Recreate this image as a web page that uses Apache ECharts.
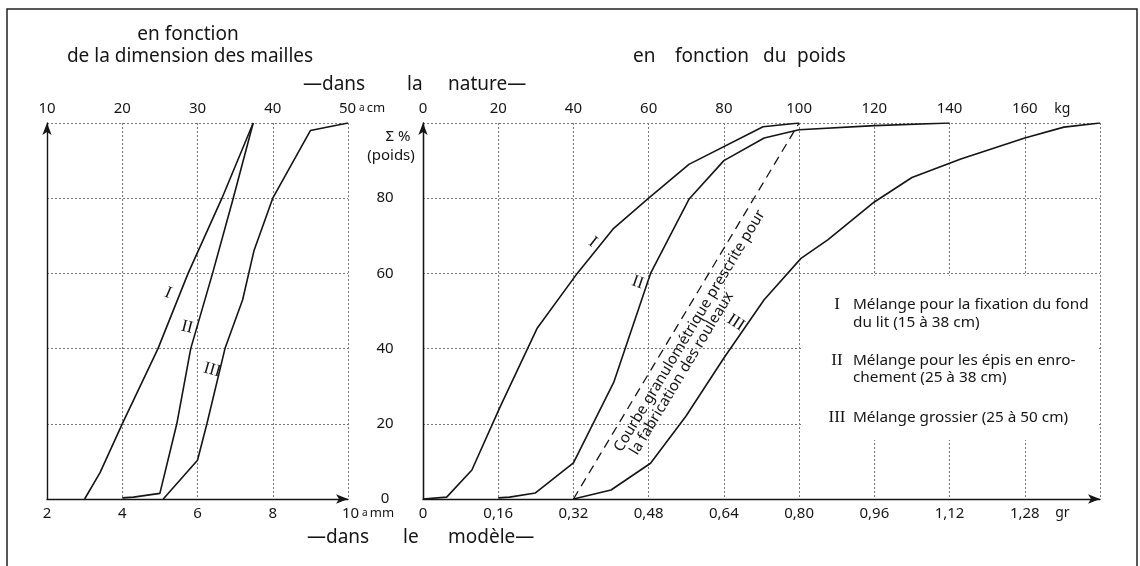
<!DOCTYPE html>
<html><head><meta charset="utf-8">
<script src="https://cdn.jsdelivr.net/npm/echarts@6/dist/echarts.min.js"></script>
<style>html,body{margin:0;padding:0;background:#fff}#c{width:1140px;height:566px}</style>
</head><body><div id="c"></div><script>
// ---- data: left panel (x in mm of the model, y in cumulative % by weight)
const leftCurveI   = [[3.0,0],[3.41,7],[4.0,20],[4.95,40],[5.75,60],[6.65,80],[7.48,100]];
const leftCurveII  = [[4.0,0.3],[4.3,0.5],[5.0,1.5],[5.45,20],[5.82,40],[6.4,60],[6.95,80],[7.48,100]];
const leftCurveIII = [[5.09,0],[6.0,10.3],[6.25,20],[6.73,40],[7.2,53],[7.5,66],[8.0,80],[9.0,98],[10,100]];
// ---- data: right panel (x in kg in nature, y in cumulative %)
const rightCurveI   = [[0,0],[6.3,0.5],[13,7.7],[20.5,24.5],[30.4,45.5],[41,60],[50.7,72],[60,80],[70.7,89],[90.4,99],[100,100]];
const rightCurveII  = [[20,0.3],[23,0.5],[29.9,1.6],[40,9.6],[50.7,31],[60.5,60],[70.7,79.7],[80,90],[90.7,96],[100,98.2],[120,99.3],[140,100]];
const rightCurveIII = [[40,0],[50,2.4],[60.5,9.5],[69.9,22],[80,37.5],[90.7,53],[100.5,64],[107.7,69],[120,79],[130,85.5],[143,90.4],[160,96],[170.4,98.9],[180,100]];
const prescribedCurve = [[40,0],[100,100]];
// ---- axis ranges / tick steps
const modelMm   = {min:2, max:10, step:2};
const natureCm  = {min:10, max:50, step:10};
const modelGr   = {min:0, max:1.44, step:0.16};
const natureKg  = {min:0, max:180, step:20};
const percent   = {min:0, max:100, step:20};
// ---- curve label anchors (data coordinates) and tilt
const leftLabels  = [['I',5.22,54.8,-23],['II',5.72,45.7,-14],['III',6.39,34.3,-16]];
const rightLabels = [['I',45.1,68.3,-38],['II',57.1,57.6,-19],['III',83.2,46.9,-33]];
const legendItems = [['I','Mélange pour la fixation du fond','du lit (15 à 38 cm)'],
                     ['II','Mélange pour les épis en enro-','chement (25 à 38 cm)'],
                     ['III','Mélange grossier (25 à 50 cm)','']];

const FONT = '"Noto Sans", sans-serif';
const SERIF = '"Liberation Serif", "DejaVu Serif", serif';
const INK = '#151515';
const grid = {show:true, lineStyle:{color:'#777', type:[2,2], width:1}};
const baseLabel = {color:INK, fontFamily:FONT, fontSize:15, showMinLabel:true, showMaxLabel:true};
const arrowLine = {show:true, lineStyle:{color:INK, width:1.4}, symbol:['none','arrow'], symbolSize:[7,12]};

const chart = echarts.init(document.getElementById('c'), null, {renderer:'canvas'});
const lineSeries = (data, xi, yi, dashed) => ({
  type:'line', data, xAxisIndex:xi, yAxisIndex:yi, symbol:'none', silent:true, z:3,
  lineStyle:{color:INK, width:dashed?1.3:1.6, type: dashed?[9,6]:'solid'}
});

chart.setOption({
  animation:false,
  backgroundColor:'#fff',
  grid:[{left:47, right:792, top:123, bottom:67},{left:423, right:40, top:123, bottom:67}],
  xAxis:[
    {gridIndex:0, type:'value', position:'bottom', min:modelMm.min, max:modelMm.max, interval:modelMm.step,
     axisLine:arrowLine, axisTick:{show:false}, splitLine:grid,
     axisLabel:Object.assign({}, baseLabel, {margin:7,
       formatter:v => v===modelMm.max ? '{n|'+v+'}{u|a}{m|mm}' : String(v),
       rich:{n:{fontSize:15, fontFamily:FONT, color:INK, padding:[0,0,0,40]}, u:{fontSize:10, fontFamily:FONT, color:INK, padding:[0,2,0,3]}, m:{fontSize:13, fontFamily:FONT, color:INK}}})},
    {gridIndex:0, type:'value', position:'top', min:natureCm.min, max:natureCm.max, interval:natureCm.step,
     axisLine:{show:false}, axisTick:{show:false}, splitLine:{show:false},
     axisLabel:Object.assign({}, baseLabel, {margin:7,
       formatter:v => v===natureCm.max ? '{n|'+v+'}{u|a}{m|cm}' : String(v),
       rich:{n:{fontSize:15, fontFamily:FONT, color:INK, padding:[0,0,0,28]}, u:{fontSize:10, fontFamily:FONT, color:INK, padding:[0,2,0,3]}, m:{fontSize:13, fontFamily:FONT, color:INK}}})},
    {gridIndex:1, type:'value', position:'bottom', min:modelGr.min, max:modelGr.max, interval:modelGr.step,
     axisLine:arrowLine, axisTick:{show:false}, splitLine:grid,
     axisLabel:Object.assign({}, baseLabel, {margin:7,
       formatter:v => v===0 ? '0' : (v > modelGr.max-0.01 ? '' : v.toFixed(2).replace('.',','))})},
    {gridIndex:1, type:'value', position:'top', min:natureKg.min, max:natureKg.max, interval:natureKg.step,
     axisLine:{show:false}, axisTick:{show:false}, splitLine:{show:false},
     axisLabel:Object.assign({}, baseLabel, {margin:7, formatter:v => v===natureKg.max ? '' : String(v)})}
  ],
  yAxis:[
    {gridIndex:0, type:'value', min:percent.min, max:percent.max, interval:percent.step,
     axisLine:arrowLine, axisTick:{show:false}, splitLine:grid, axisLabel:{show:false}},
    {gridIndex:1, type:'value', position:'left', min:percent.min, max:percent.max, interval:percent.step,
     axisLine:arrowLine, axisTick:{show:false}, splitLine:grid,
     axisLabel:Object.assign({}, baseLabel, {margin:38, align:'center', formatter:v => v===percent.max ? '' : String(v)})},
    {gridIndex:1, type:'value', position:'right', min:percent.min, max:percent.max, interval:percent.step,
     axisLine:{show:true, lineStyle:{color:INK, width:1.2}}, axisTick:{show:false}, splitLine:{show:false}, axisLabel:{show:false}}
  ],
  series:[
    lineSeries(leftCurveI,0,0), lineSeries(leftCurveII,0,0), lineSeries(leftCurveIII,0,0),
    lineSeries(rightCurveI,3,1), lineSeries(rightCurveII,3,1), lineSeries(rightCurveIII,3,1),
    lineSeries(prescribedCurve,3,1,true)
  ]
});

const pxL = p => chart.convertToPixel({xAxisIndex:0, yAxisIndex:0}, p);
const pxR = p => chart.convertToPixel({xAxisIndex:3, yAxisIndex:1}, p);
const txt = (text, x, y, o) => {
  o = o || {};
  return {type:'text', x, y, rotation:(o.rot||0)*Math.PI/180, z:10, silent:true,
    style:{text, fill:INK, fontSize:o.size||15, fontFamily:o.font||FONT,
      align:o.align||'center', textAlign:o.align||'center', verticalAlign:'middle', textVerticalAlign:'middle'}};
};

const g = [];
// frame
g.push({type:'rect', shape:{x:7, y:9, width:1130, height:600}, z:0, silent:true,
  style:{fill:null, stroke:'#222', lineWidth:1.5}});
// legend box (covers grid lines)
const b0 = pxR([100.8, 59.4]), b1 = pxR([179.6, 15.7]);
g.push({type:'rect', shape:{x:b0[0], y:b0[1], width:b1[0]-b0[0], height:b1[1]-b0[1]}, z:1, silent:true,
  style:{fill:'#fff', stroke:null}});
// titles
g.push(txt('en fonction', 188, 35, {size:19}));
g.push(txt('de la dimension des mailles', 190, 57, {size:19}));
[['en',633],['fonction',675],['du',763],['poids',797]].forEach(w => g.push(txt(w[0], w[1], 57, {size:19, align:'left'})));
[['—dans',303],['la',407],['nature—',448]].forEach(w => g.push(txt(w[0], w[1], 85, {size:19, align:'left'})));
[['—dans',307],['le',403],['modèle—',448]].forEach(w => g.push(txt(w[0], w[1], 538, {size:19, align:'left'})));
// y axis title
g.push(txt('Σ %', 398, 137, {size:15}));
g.push(txt('(poids)', 391, 156, {size:15}));
// units
const kgP = pxR([170, 100]);
g.push(txt('kg', kgP[0], 109, {size:14}));
g.push(txt('gr', kgP[0], 513, {size:14}));
// curve labels
leftLabels.forEach(l => { const p = pxL([l[1], l[2]]); g.push(txt(l[0], p[0], p[1], {font:SERIF, size:17, rot:l[3]})); });
rightLabels.forEach(l => { const p = pxR([l[1], l[2]]); g.push(txt(l[0], p[0], p[1], {font:SERIF, size:17, rot:l[3]})); });
// prescribed curve label
const d0 = pxR(prescribedCurve[0]), d1 = pxR(prescribedCurve[1]);
const ang = Math.atan2(d0[1]-d1[1], d1[0]-d0[0]) * 180 / Math.PI;
const c1 = pxR([70.9, 44.7]), c2 = pxR([68.8, 33.4]);
g.push(txt('Courbe granulométrique prescrite pour', c1[0], c1[1], {size:15, rot:ang}));
g.push(txt('la fabrication des rouleaux', c2[0], c2[1], {size:15, rot:ang}));
// legend
const legY = [[305,323],[361,378],[418,0]];
legendItems.forEach((it, i) => {
  g.push(txt(it[0], 837, legY[i][0], {font:SERIF, size:17}));
  g.push(txt(it[1], 853, legY[i][0], {size:15.3, align:'left'}));
  if (it[2]) g.push(txt(it[2], 853, legY[i][1], {size:15.3, align:'left'}));
});
chart.setOption({graphic:g});
</script></body></html>
